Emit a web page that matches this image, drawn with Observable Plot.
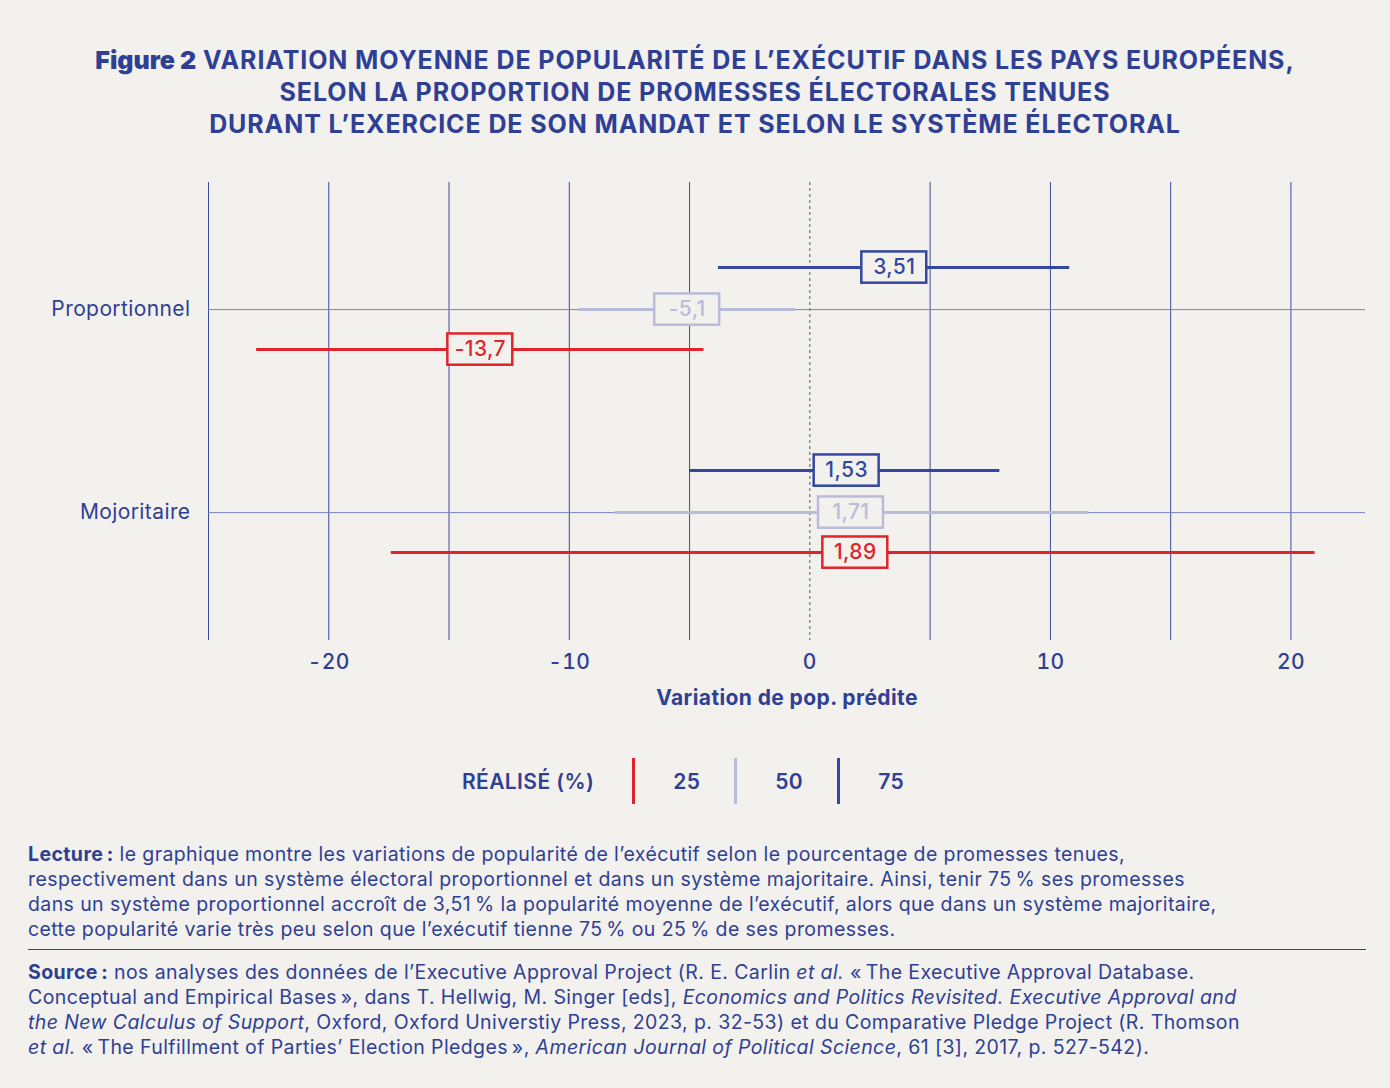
<!DOCTYPE html>
<html><head><meta charset="utf-8">
<script src="https://cdn.jsdelivr.net/npm/d3@7"></script>
<script src="https://cdn.jsdelivr.net/npm/@observablehq/plot@0.6"></script>
<style>
body{margin:0;background:#f2f1ee;font-family:Inter,"Noto Sans",sans-serif;color:#2f3f93;width:1390px;letter-spacing:0.4px}
h1{margin:0;padding-top:44px;text-align:center;font-size:25px;line-height:32px;font-weight:700;letter-spacing:0.9px;color:#2f3f93}
h1 b{font-weight:900;letter-spacing:0}
#chart{margin-top:42px;height:560px}
#legend{display:flex;align-items:center;justify-content:center;font-size:21px;font-weight:600;margin-top:14px;height:50px;padding-left:10px}
#legend .t{margin-right:38px}
#legend .k{display:flex;align-items:center;margin-right:34px}
#legend .bar{width:3px;height:46px;margin-right:38px}
.notes{margin:36px 60px 0 28px;font-size:19.5px;line-height:25px;color:#2f3f93}
.notes hr{border:0;border-top:1.5px solid #2f3f93;margin:7px -36px 10px 0}
</style></head><body>
<h1><b>Figure 2</b> VARIATION MOYENNE DE POPULARITÉ DE L’EXÉCUTIF DANS LES PAYS EUROPÉENS,<br>SELON LA PROPORTION DE PROMESSES ÉLECTORALES TENUES<br>DURANT L’EXERCICE DE SON MANDAT ET SELON LE SYSTÈME ÉLECTORAL</h1>
<div id="chart"></div>
<div id="legend"><span class="t">RÉALISÉ (%)</span></div>
<div class="notes"><b>Lecture&#8239;:</b> le graphique montre les variations de popularité de l’exécutif selon le pourcentage de promesses tenues,<br>respectivement dans un système électoral proportionnel et dans un système majoritaire. Ainsi, tenir 75&#8239;% ses promesses<br>dans un système proportionnel accroît de 3,51&#8239;% la popularité moyenne de l’exécutif, alors que dans un système majoritaire,<br>cette popularité varie très peu selon que l’exécutif tienne 75&#8239;% ou 25&#8239;% de ses promesses.
<hr>
<b>Source&#8239;:</b> nos analyses des données de l’Executive Approval Project (R. E. Carlin <i>et al.</i> «&#8239;The Executive Approval Database.<br>Conceptual and Empirical Bases&#8239;», dans T. Hellwig, M. Singer [eds], <i>Economics and Politics Revisited. Executive Approval and<br>the New Calculus of Support</i>, Oxford, Oxford Universtiy Press, 2023, p. 32-53) et du Comparative Pledge Project (R. Thomson<br><i>et al.</i> «&#8239;The Fulfillment of Parties’ Election Pledges&#8239;», <i>American Journal of Political Science</i>, 61 [3], 2017, p. 527-542).</div>
<script>
const systems = ["Proportionnel","Mojoritaire"];
const levels = ["25","50","75"];
const colors = ["#e0242b","#b9bcd9","#3447a0"];
const estimates = [[-13.7,-5.1,3.51],[1.89,1.71,1.53]];
const lows = [[-23,-9.6,-3.8],[-17.4,-8.1,-5]];
const highs = [[-4.4,-0.6,10.8],[21,11.6,7.9]];
const labels = [["-13,7","-5,1","3,51"],["1,89","1,71","1,53"]];
const xTicks = [-20,-10,0,10,20];

const sysPos = {Proportionnel:1, Mojoritaire:0};
const lvlOff = {"25":-0.197,"50":0,"75":0.207};
const rows = [];
systems.forEach((s,i)=>levels.forEach((l,j)=>rows.push({s,l,c:colors[j],est:estimates[i][j],lo:lows[i][j],hi:highs[i][j],lab:labels[i][j],y:sysPos[s]+lvlOff[l]})));

const chart = Plot.plot({
  width:1390, height:560,
  marginLeft:208, marginRight:25, marginTop:0, marginBottom:102,
  style:{background:"transparent",fontFamily:"Inter, sans-serif",fontSize:"21px",color:"#2f3f93",letterSpacing:"0.4px"},
  x:{domain:[-25,23.1], tickSize:0, label:null},
  y:{domain:[-0.63,1.626], ticks:[0,1], tickFormat:d=>d===1?systems[0]:systems[1], tickSize:0, tickPadding:18, label:null},
  marks:[
    Plot.ruleX(d3.range(-25,25,5).filter(v=>v!==0),{stroke:"#3c4a9a",strokeWidth:1}),
    Plot.ruleX([0],{stroke:"#555",strokeDasharray:"3,3",strokeWidth:1}),
    Plot.ruleY([0,1],{stroke:"#7a83bd",strokeWidth:1}),
    Plot.ruleY(rows,{y:"y",x1:"lo",x2:"hi",stroke:"c",strokeWidth:3}),
    Plot.rect(rows,{x1:d=>d.est-1.35,x2:d=>d.est+1.35,y1:d=>d.y-0.077,y2:d=>d.y+0.077,fill:"#f2f1ee",stroke:"c",strokeWidth:2.5}),
    Plot.text(rows,{x:"est",y:"y",text:"lab",fill:"c",fontSize:21,fontWeight:500}),
    Plot.axisX({ticks:xTicks,tickFormat:d=>String(d),tickSize:0,tickPadding:14,fontSize:21,fontWeight:500,label:null}),
    Plot.text(["Variation de pop. prédite"],{frameAnchor:"bottom",dy:64,fontSize:21,fontWeight:700,fill:"#2f3f93"})
  ]
});
document.getElementById("chart").append(chart);
const lg=document.getElementById("legend");
levels.forEach((l,j)=>{const k=document.createElement("span");k.className="k";k.innerHTML=`<span class="bar" style="background:${colors[j]}"></span>${l}`;lg.append(k);});
</script>
</body></html>
